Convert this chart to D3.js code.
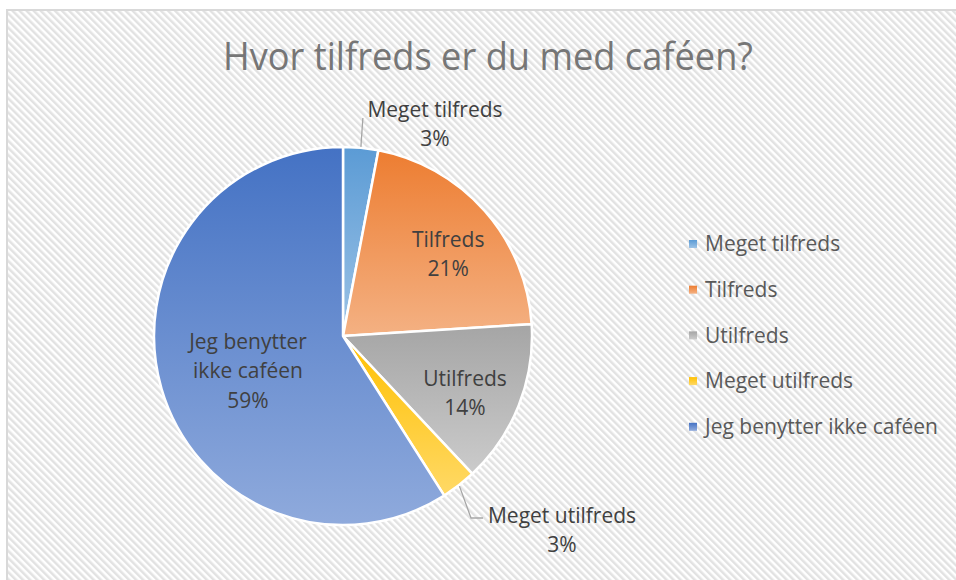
<!DOCTYPE html>
<html>
<head>
<meta charset="utf-8">
<script src="https://cdn.jsdelivr.net/npm/d3@7"></script>
<style>
  body { margin: 0; background: #fff; }
  svg { display: block; }
  text { font-family: "Open Sans", sans-serif; }
</style>
</head>
<body>
<svg id="chart" width="956" height="580"></svg>
<script>
// data
const categories = ['Meget tilfreds', 'Tilfreds', 'Utilfreds', 'Meget utilfreds', 'Jeg benytter ikke caféen'];
const values = [3, 21, 14, 3, 59];
const labelLines = [['Meget tilfreds'], ['Tilfreds'], ['Utilfreds'], ['Meget utilfreds'], ['Jeg benytter', 'ikke caféen']];
const topColors = ['#5B9BD5', '#ED7D31', '#A5A5A5', '#FFC000', '#4472C4'];
const bottomColors = ['#9DC3E6', '#F4B183', '#CBCBCB', '#FFD966', '#8FAADC'];

const width = 956, height = 580;
const svg = d3.select('#chart');
const defs = svg.append('defs');

// striped background
const pat = defs.append('pattern')
    .attr('id', 'stripes')
    .attr('patternUnits', 'userSpaceOnUse')
    .attr('width', 5).attr('height', 5)
    .attr('patternTransform', 'rotate(-45)');
pat.append('rect').attr('width', 5).attr('height', 5).attr('fill', '#ffffff');
pat.append('rect').attr('width', 2.5).attr('height', 5).attr('fill', '#e2e2e2');

svg.append('rect')
    .attr('x', 7).attr('y', 10)
    .attr('width', width).attr('height', height)
    .attr('fill', 'url(#stripes)')
    .attr('stroke', '#d9d9d9')
    .attr('stroke-width', 2);

// title (squeezed to the reference width if the font runs wide)
const title = svg.append('text')
    .attr('x', 488).attr('y', 70)
    .attr('text-anchor', 'middle')
    .attr('fill', '#767676')
    .style('font-size', '38px')
    .text('Hvor tilfreds er du med caféen?');
if (title.node().getComputedTextLength() > 530) {
    title.attr('textLength', 530).attr('lengthAdjust', 'spacingAndGlyphs');
}

// gradients per slice
categories.forEach((c, i) => {
    const g = defs.append('linearGradient')
        .attr('id', 'grad' + i)
        .attr('x1', 0).attr('y1', 0).attr('x2', 0).attr('y2', 1);
    g.append('stop').attr('offset', '0%').attr('stop-color', topColors[i]);
    g.append('stop').attr('offset', '100%').attr('stop-color', bottomColors[i]);
});

const cx = 343, cy = 336, radius = 189;
const pie = d3.pie().sort(null).value(d => d)(values);
const arc = d3.arc().innerRadius(0).outerRadius(radius);

const pieG = svg.append('g').attr('transform', 'translate(' + [cx, cy] + ')');

pieG.selectAll('path.slice')
    .data(pie)
    .enter()
    .append('path')
    .attr('class', 'slice')
    .attr('d', arc)
    .attr('fill', (d, i) => 'url(#grad' + i + ')')
    .attr('stroke', '#ffffff')
    .attr('stroke-width', 2.5)
    .attr('stroke-linejoin', 'round');

// data labels
const total = d3.sum(values);
const pct = v => Math.round(v / total * 100) + '%';
const lineH = 29.5;

pie.forEach((d, i) => {
    const mid = (d.startAngle + d.endAngle) / 2;
    const share = d.value / total;
    let lx, ly;
    if (share < 0.05) {
        // outside label with leader line
        const edge = [Math.sin(mid) * (radius + 1), -Math.cos(mid) * (radius + 1)];
        let pts;
        if (Math.cos(mid) > 0) {
            lx = 435 - cx; ly = 108 - cy;
            pts = [edge, [edge[0] + 2, 118 - cy]];
        } else {
            lx = 562 - cx; ly = 514 - cy;
            pts = [edge, [471 - cx, 518 - cy], [483 - cx, 518 - cy]];
        }
        pieG.append('path')
            .attr('d', d3.line()(pts))
            .attr('fill', 'none')
            .attr('stroke', '#a6a6a6')
            .attr('stroke-width', 1.3);
    } else if (share > 0.5) {
        lx = 248 - cx; ly = 340 - cy;
    } else {
        const r = radius * 0.71;
        const a = mid + 3 * Math.PI / 180;
        const n = labelLines[i].length + 1;
        lx = Math.sin(a) * r;
        ly = -Math.cos(a) * r - (n - 1) * lineH / 2;
    }
    const lines = labelLines[i].concat([pct(d.value)]);
    lines.forEach((s, k) => {
        pieG.append('text')
            .attr('text-anchor', 'middle')
            .attr('fill', '#404040')
            .style('font-size', '21px')
            .attr('x', lx)
            .attr('y', ly + k * lineH)
            .attr('dy', '0.42em')
            .text(s);
    });
});

// legend
const legend = svg.append('g').attr('transform', 'translate(689,244)');
const rowH = 45.7;
const items = legend.selectAll('g')
    .data(categories)
    .enter()
    .append('g')
    .attr('transform', (d, i) => 'translate(0,' + i * rowH + ')');
items.append('rect')
    .attr('x', 0).attr('y', -4)
    .attr('width', 8).attr('height', 8)
    .attr('fill', (d, i) => 'url(#grad' + i + ')');
items.append('text')
    .attr('x', 16).attr('y', 0)
    .attr('dy', '0.35em')
    .attr('fill', '#595959')
    .style('font-size', '21px')
    .text(d => d);
</script>
</body>
</html>
